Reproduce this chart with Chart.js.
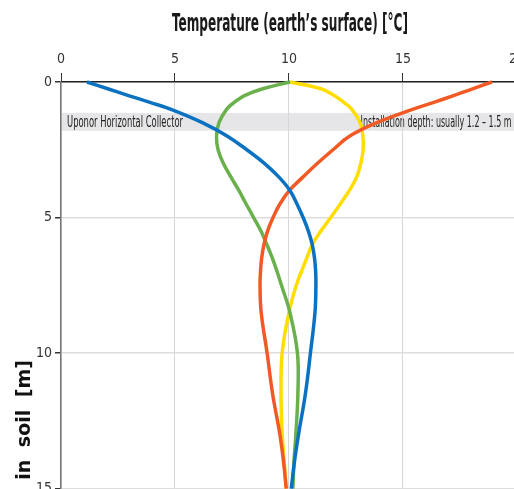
<!DOCTYPE html>
<html>
<head>
<meta charset="utf-8">
<script src="https://cdn.jsdelivr.net/npm/chart.js@4.4.1/dist/chart.umd.min.js"></script>
<style>
  html, body { margin: 0; padding: 0; background: #fff; overflow: hidden; }
  #wrap { width: 530px; height: 500px; }
</style>
</head>
<body>
<div id="wrap"><canvas id="soilChart" width="530" height="500"></canvas></div>
<script>
// Depth below surface [m] where temperatures were read
const depths = [0, 0.25, 0.5, 0.75, 1.0, 1.5, 2.0, 2.5, 3.0, 3.5, 4.0, 4.5, 5.0, 5.5, 6.0, 6.5, 7.0, 7.5, 8.5, 10, 11.5, 13, 14, 15];

// Soil temperature [°C] per season curve
const winterTemps = [1.14, 2.05, 2.96, 3.9, 4.8, 6.2, 7.3, 8.15, 8.92, 9.55, 10.04, 10.35, 10.62, 10.85, 11.02, 11.12, 11.17, 11.18, 11.14, 10.94, 10.72, 10.42, 10.24, 10.1];
const summerTemps = [18.9, 18.05, 17.22, 16.35, 15.45, 13.85, 12.65, 11.93, 11.25, 10.62, 10.02, 9.6, 9.3, 9.06, 8.9, 8.8, 8.75, 8.73, 8.78, 9.04, 9.28, 9.6, 9.76, 9.88];
const springTemps = [10.04, 8.85, 8.05, 7.6, 7.27, 6.93, 6.82, 6.89, 7.12, 7.45, 7.8, 8.12, 8.45, 8.77, 9.03, 9.27, 9.48, 9.67, 10.04, 10.37, 10.39, 10.3, 10.22, 10.17];
const autumnTemps = [10.04, 11.4, 11.98, 12.4, 12.75, 13.12, 13.24, 13.25, 13.15, 12.97, 12.65, 12.25, 11.83, 11.4, 11.02, 10.78, 10.54, 10.32, 10.0, 9.7, 9.65, 9.7, 9.79, 9.88];

const tempTicks = [0, 5, 10, 15, 20];
const depthTicks = [0, 5, 10, 15];

// Collector band
const bandDepth = [1.14, 1.8];
const bandLabels = ['Uponor Horizontal Collector', 'Installation depth: usually 1.2 \u2013 1.5 m'];

const NARROW = '"Liberation Sans Narrow", "DejaVu Sans Condensed", sans-serif';

function toPoints(temps) {
    return temps.map((t, i) => ({ x: t, y: depths[i] }));
}

function curve(temps, color) {
    return {
        data: toPoints(temps),
        borderColor: color,
        backgroundColor: color,
        borderWidth: 3.5,
        pointRadius: 0,
        tension: 0.4,
        showLine: true,
        fill: false,
        clip: 4
    };
}

// Band, band texts and the two axis titles
const decor = {
    id: 'decor',
    beforeDraw(chart) {
        const { ctx, chartArea, scales: { x, y } } = chart;
        const top = y.getPixelForValue(bandDepth[0]);
        const bottom = y.getPixelForValue(bandDepth[1]);
        const mid = (top + bottom) / 2 + 1;
        ctx.save();
        ctx.fillStyle = '#e6e6e8';
        ctx.fillRect(chartArea.left, top, chartArea.right - chartArea.left, bottom - top);
        ctx.fillStyle = '#222';
        ctx.font = '16px ' + NARROW;
        ctx.textBaseline = 'middle';
        ctx.textAlign = 'left';
        ctx.fillText(bandLabels[0], chartArea.left + 6, mid, 116);
        ctx.fillText(bandLabels[1], x.getPixelForValue(13.14), mid, 151);
        ctx.restore();
    },
    afterDraw(chart) {
        const { ctx } = chart;
        ctx.save();
        // top title
        ctx.fillStyle = '#1a1a1a';
        ctx.font = 'bold 25px ' + NARROW;
        ctx.textAlign = 'center';
        ctx.textBaseline = 'alphabetic';
        ctx.fillText('Temperature (earth\u2019s surface) [\u00b0C]', 290, 31, 236);
        // depth title, rotated
        ctx.translate(25, 360);
        ctx.rotate(-Math.PI / 2);
        ctx.font = 'bold 19px "DejaVu Sans", sans-serif';
        ctx.wordSpacing = '6px';
        ctx.fillStyle = '#111';
        ctx.textAlign = 'right';
        ctx.textBaseline = 'middle';
        ctx.fillText('Depth in soil [m]', 0, 0);
        ctx.restore();
    }
};

const config = {
    type: 'scatter',
    data: {
        datasets: [
            curve(winterTemps, '#0b72c2'),
            curve(summerTemps, '#f15a24'),
            curve(springTemps, '#6ab04c'),
            curve(autumnTemps, '#ffdd00')
        ]
    },
    options: {
        responsive: false,
        animation: false,
        layout: { padding: { top: 0, left: 0, right: 13, bottom: 10 } },
        plugins: {
            legend: { display: false },
            tooltip: { enabled: false }
        },
        scales: {
            x: {
                type: 'linear',
                position: 'top',
                min: tempTicks[0],
                max: tempTicks[tempTicks.length - 1],
                afterBuildTicks: (scale) => { scale.ticks = tempTicks.map(v => ({ value: v })); },
                afterFit: (scale) => { scale.height = 82; },
                ticks: {
                    color: '#333',
                    padding: 5,
                    font: { family: NARROW, size: 14 }
                },
                grid: {
                    color: '#d6d6d6',
                    lineWidth: 1,
                    tickLength: 9,
                    tickColor: '#333'
                },
                border: { color: '#222', width: 1.5 }
            },
            y: {
                type: 'linear',
                reverse: true,
                min: depthTicks[0],
                max: depthTicks[depthTicks.length - 1],
                afterBuildTicks: (scale) => { scale.ticks = depthTicks.map(v => ({ value: v })); },
                afterFit: (scale) => { scale.width = 61; },
                ticks: {
                    color: '#333',
                    padding: 3,
                    font: { family: NARROW, size: 14 }
                },
                grid: {
                    color: '#dddddd',
                    lineWidth: 1.5,
                    tickLength: 6,
                    tickColor: '#333'
                },
                border: { color: '#777', width: 1.5 }
            }
        }
    },
    plugins: [decor]
};

new Chart(document.getElementById('soilChart').getContext('2d'), config);
</script>
</body>
</html>
